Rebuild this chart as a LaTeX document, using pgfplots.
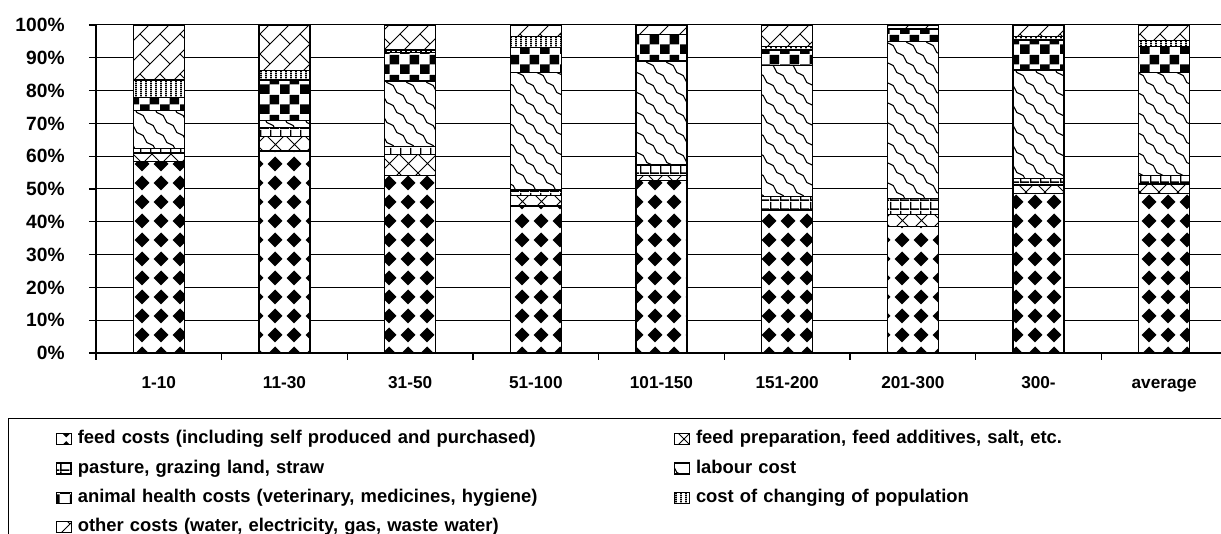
\documentclass[border=0pt]{standalone}
\usepackage{fontspec}
\setmainfont{Liberation Sans}
\usepackage{pgfplots}
\pgfplotsset{compat=1.18}
\usetikzlibrary{patterns}

% feed costs: black diamonds
\pgfdeclarepatternformonly{feeddiam}{\pgfpointorigin}{\pgfpoint{9.5pt}{9.5pt}}{\pgfpoint{9.5pt}{9.5pt}}{%
 \pgfpathmoveto{\pgfpoint{4.75pt}{0.85pt}}%
 \pgfpathlineto{\pgfpoint{8.65pt}{4.75pt}}%
 \pgfpathlineto{\pgfpoint{4.75pt}{8.65pt}}%
 \pgfpathlineto{\pgfpoint{0.85pt}{4.75pt}}%
 \pgfpathclose\pgfusepath{fill}}
% feed preparation: diagonal crosses
\pgfdeclarepatternformonly{xcross}{\pgfpoint{-0.5pt}{-0.5pt}}{\pgfpoint{10pt}{10pt}}{\pgfpoint{9.5pt}{9.5pt}}{%
 \pgfsetlinewidth{0.5pt}%
 \pgfpathmoveto{\pgfpoint{0pt}{0pt}}\pgfpathlineto{\pgfpoint{9.5pt}{9.5pt}}%
 \pgfpathmoveto{\pgfpoint{0pt}{9.5pt}}\pgfpathlineto{\pgfpoint{9.5pt}{0pt}}%
 \pgfusepath{stroke}}
% pasture: small squares
\pgfdeclarepatternformonly{smallsq}{\pgfpointorigin}{\pgfpoint{5pt}{4.5pt}}{\pgfpoint{5pt}{4.5pt}}{%
 \pgfpathrectangle{\pgfpointorigin}{\pgfpoint{5pt}{0.9pt}}%
 \pgfpathrectangle{\pgfpointorigin}{\pgfpoint{0.8pt}{4.5pt}}%
 \pgfusepath{fill}}
% labour: wavy diagonal lines
\pgfdeclarepatternformonly{wavy}{\pgfpoint{-0.5pt}{-0.5pt}}{\pgfpoint{10.5pt}{10.5pt}}{\pgfpoint{10pt}{10pt}}{%
 \pgfsetlinewidth{0.55pt}%
 \pgfpathmoveto{\pgfpoint{0pt}{10pt}}%
 \pgfpathcurveto{\pgfpoint{3pt}{10pt}}{\pgfpoint{2pt}{5pt}}{\pgfpoint{5pt}{5pt}}%
 \pgfpathcurveto{\pgfpoint{8pt}{5pt}}{\pgfpoint{7pt}{0pt}}{\pgfpoint{10pt}{0pt}}%
 \pgfusepath{stroke}}
% animal health: checkerboard
\pgfdeclarepatternformonly{checker}{\pgfpointorigin}{\pgfpoint{10pt}{10pt}}{\pgfpoint{10pt}{10pt}}{%
 \pgfpathrectangle{\pgfpointorigin}{\pgfpoint{5pt}{5pt}}%
 \pgfpathrectangle{\pgfpoint{5pt}{5pt}}{\pgfpoint{5pt}{5pt}}%
 \pgfusepath{fill}}
% changing of population: vertical lines
\pgfdeclarepatternformonly{vlines}{\pgfpointorigin}{\pgfpoint{2.25pt}{1pt}}{\pgfpoint{2.25pt}{1pt}}{%
 \pgfpathrectangle{\pgfpointorigin}{\pgfpoint{1pt}{1pt}}%
 \pgfusepath{fill}}
% other: diagonal bricks
\pgfdeclarepatternformonly{dbricks}{\pgfpoint{-0.5pt}{-0.5pt}}{\pgfpoint{10.5pt}{10.5pt}}{\pgfpoint{10pt}{10pt}}{%
 \pgfsetlinewidth{0.5pt}%
 \pgfpathmoveto{\pgfpoint{0pt}{0pt}}\pgfpathlineto{\pgfpoint{10pt}{10pt}}%
 \pgfpathmoveto{\pgfpoint{0pt}{10pt}}\pgfpathlineto{\pgfpoint{5pt}{5pt}}%
 \pgfusepath{stroke}}

\pgfplotstableread{
x feed prep pasture labour health change other
0 58.4 2.6 1.3 11.6 4.0 5.3 16.8
1 61.6 4.4 2.7 2.1 12.4 3.0 13.8
2 54.1 6.3 2.5 20.0 8.8 0.7 7.6
3 44.8 3.2 1.7 35.9 7.5 3.5 3.4
4 52.7 1.4 3.2 31.7 8.0 0.2 2.8
5 43.4 0.3 4.0 40.0 4.7 1.0 6.6
6 38.5 3.8 4.7 48.0 3.7 0.2 1.1
7 48.7 2.5 2.0 33.1 9.1 1.0 3.6
8 48.7 2.8 2.6 31.4 7.9 1.8 4.8
}\costs

\begin{document}
\begin{tikzpicture}
\useasboundingbox (-48pt,-90.5pt) rectangle (562.5pt,176.5pt);
\clip (-48pt,-90.5pt) rectangle (562.5pt,176.5pt);
\begin{axis}[
  at={(0,0)}, anchor=south west,
  scale only axis, width=565.5pt, height=164pt,
  ybar stacked, bar width=25.5pt,
  xmin=-0.5, xmax=8.5, ymin=0, ymax=100,
  axis x line*=bottom, axis y line*=left,
  axis line style={-, black, line width=0.6pt},
  xtick={-0.5,0.5,...,8.5},
  x tick label as interval,
  xticklabels={1-10,11-30,31-50,51-100,101-150,151-200,201-300,300-,average},
  ytick={0,10,...,100},
  yticklabels={0\%,10\%,20\%,30\%,40\%,50\%,60\%,70\%,80\%,90\%,100\%},
  tick align=outside, major tick length=3.5pt,
  tick style={black, line width=0.6pt},
  ymajorgrids, grid style={black, line width=0.5pt},
  xticklabel style={font=\bfseries\fontsize{8.6}{10}\selectfont, inner sep=0pt, anchor=north, text height=6.2pt, text depth=0pt, yshift=-8pt},
  yticklabel style={font=\bfseries\fontsize{9.6}{10}\selectfont, inner sep=0pt, anchor=east, xshift=-12pt},
  every axis plot/.append style={draw=black, line width=0.6pt, fill=white},
  area legend,
  legend image code/.code={\draw[#1] (0pt,-2.75pt) rectangle (7.5pt,2.75pt);},
  legend columns=2,
  legend cell align=left,
  legend style={
    at={(axis description cs:-0.0778,-0.1982)}, anchor=north west,
    draw=black, line width=0.6pt,
    inner xsep=23.5pt, inner ysep=6pt,
    row sep=6.15pt,
    font=\bfseries\fontsize{9.2}{11}\selectfont,
    nodes={inner sep=0pt, text width=298pt, text height=6.6pt, text depth=1.9pt, line width=0.6pt},
    /tikz/every odd column/.style={column sep=3pt},
    /tikz/every even column/.style={column sep=0pt},
  },
]
\addplot[postaction={pattern=feeddiam}] table[x=x,y=feed]{\costs};
\addplot[postaction={pattern=xcross}] table[x=x,y=prep]{\costs};
\addplot[postaction={pattern=smallsq}] table[x=x,y=pasture]{\costs};
\addplot[postaction={pattern=wavy}] table[x=x,y=labour]{\costs};
\addplot[postaction={pattern=checker}] table[x=x,y=health]{\costs};
\addplot[postaction={pattern=vlines}] table[x=x,y=change]{\costs};
\addplot[postaction={pattern=dbricks}] table[x=x,y=other]{\costs};
\legend{feed costs (including self produced and purchased),
  {feed preparation, feed additives, salt, etc.},
  {pasture, grazing land, straw},
  labour cost,
  {animal health costs (veterinary, medicines, hygiene)},
  cost of changing of population,
  {other costs (water, electricity, gas, waste water)}}
\end{axis}
\end{tikzpicture}
\end{document}
